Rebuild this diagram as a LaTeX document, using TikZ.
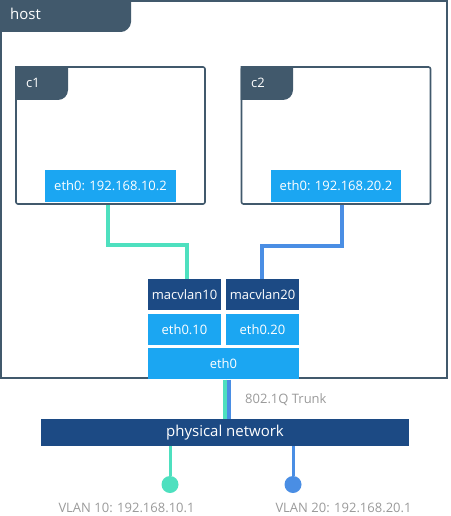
\documentclass[tikz,border=0pt]{standalone}
\usepackage{fontspec}
\setmainfont{Open Sans}
\usetikzlibrary{matrix,positioning}

\definecolor{slate}{HTML}{41596C}
\definecolor{ifblue}{HTML}{1BA6F2}
\definecolor{navy}{HTML}{1C4A84}
\definecolor{vgreen}{HTML}{4EE0BF}
\definecolor{vblue}{HTML}{4A8EE4}
\definecolor{notegray}{HTML}{9A9A9A}

\begin{document}
\begin{tikzpicture}[
        x=1pt, y=-1pt,
        frame/.style={
          draw=slate,
          line width=1.6pt,
          fill=white,
          rounded corners=2pt,
          inner sep=0pt
          },
        tablabel/.style={
          text=white,
          anchor=base west,
          inner sep=0pt
          },
        ifbox/.style={
          fill=ifblue,
          text=white,
          minimum height=32pt,
          inner sep=0pt
          },
        net/.style={
          matrix of nodes,
          nodes={
            fill=navy,
            text=white,
            minimum width=73pt,
            minimum height=31pt,
            inner sep=0pt
            },
          row 2/.style={nodes={fill=ifblue}},
          column sep=5pt,
          row sep=4pt,
          inner sep=0pt
          },
        greenwire/.style={draw=vgreen, line width=4pt},
        bluewire/.style={draw=vblue, line width=4pt},
        note/.style={text=notegray, inner sep=0pt},
        font=\fontsize{13}{15}\selectfont
        ]
        \useasboundingbox (0,0) rectangle (450,516);
        % host
        \node[frame, rounded corners=0pt, minimum width=446pt, minimum height=377pt] (host) at (224,189.5) {};
        \fill[slate] (0,0) -- (131,0) -- (131,22) .. controls (131,27.5) and (125.5,32) .. (121,32) -- (0,32) -- cycle;
        \node[tablabel, font=\fontsize{15}{17}\selectfont] (hostlbl) at (10,20) {host};
        % containers
        \node[frame, minimum width=189pt, minimum height=137pt] (c1) at (110.5,135.5) {};
        \node[frame, minimum width=189pt, minimum height=137pt] (c2) at (336,135.5) {};
        \fill[slate] (15.2,66.2) -- (68,66.2) -- (68,90) .. controls (68,95.5) and (63.5,100) .. (58,100) -- (15.2,100) -- cycle;
        \fill[slate] (240.7,66.2) -- (293,66.2) -- (293,90) .. controls (293,95.5) and (288.5,100) .. (283,100) -- (240.7,100) -- cycle;
        \node[tablabel] (c1lbl) at (26,88) {c1};
        \node[tablabel] (c2lbl) at (251,88) {c2};
        \node[ifbox, minimum width=131pt, above=3pt of c1.south] (ip1) {eth0: 192.168.10.2};
        \node[ifbox, minimum width=130pt, above=3pt of c2.south] (ip2) {eth0: 192.168.20.2};
        % interfaces on the host
        \matrix[net] (mat) at (223.5,312)
        {
        macvlan10 & macvlan20 \\
        eth0.10 & eth0.20 \\
        };
        \node[ifbox, minimum width=151pt, minimum height=31pt, below=3pt of mat] (eth0) {eth0};
        \draw[greenwire] ([xshift=-3pt]c1.south) -- ++(0,40) -| ([xshift=2.5pt]mat-1-1.north);
        \draw[bluewire] ([xshift=6pt]c2.south) -- ++(0,41) -| ([xshift=-0.5pt]mat-1-2.north);
        % physical side
        \node[fill=navy, text=white, minimum width=368pt, minimum height=27pt, inner sep=0pt,
              font=\fontsize{15}{17}\selectfont] (phys) at (225,432.5) {physical network};
        \coordinate (tg) at ([xshift=1pt]eth0.south);
        \coordinate (tb) at ([xshift=5pt]eth0.south);
        \draw[greenwire] (tg) -- (tg |- phys.north);
        \draw[bluewire] (tb) -- (tb |- phys.north);
        \node[note, anchor=west] (trunk) at (245,400) {802.1Q Trunk};
        \node[circle, fill=vgreen, minimum size=17pt, inner sep=0pt] (dot10) at (170,484.5) {};
        \node[circle, fill=vblue, minimum size=17pt, inner sep=0pt] (dot20) at (293,484.5) {};
        \draw[greenwire, line width=3pt] (dot10 |- phys.south) -- (dot10);
        \draw[bluewire, line width=3pt] (dot20 |- phys.south) -- (dot20);
        \node[note] (vlan10) at (126.5,508) {VLAN 10: 192.168.10.1};
        \node[note] (vlan20) at (343.5,508) {VLAN 20: 192.168.20.1};
        \end{tikzpicture}
\end{document}
